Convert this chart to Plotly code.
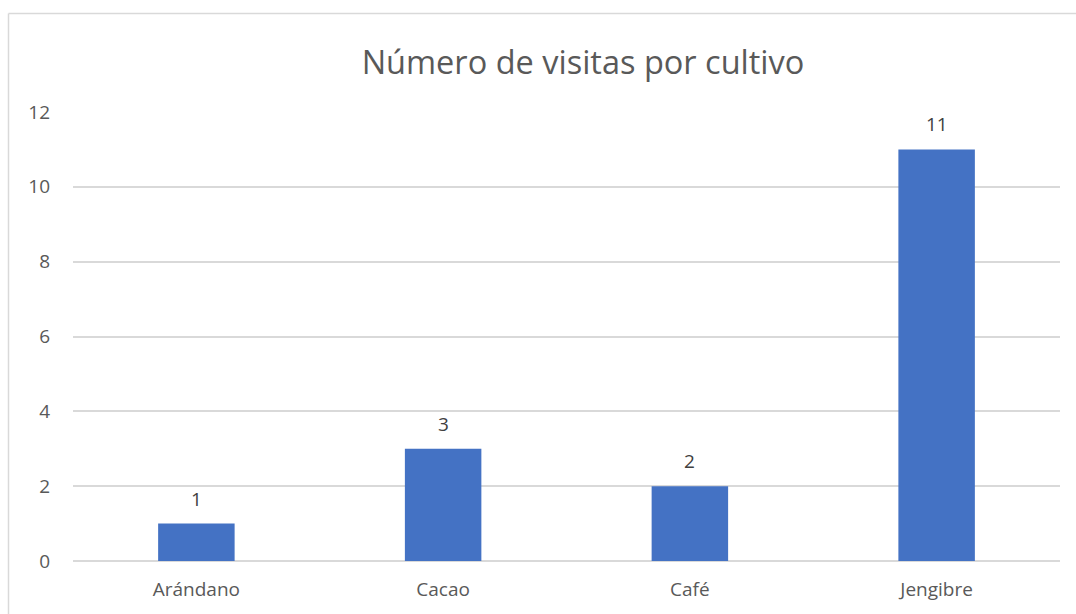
import plotly.graph_objects as go

categories = ["Arándano", "Cacao", "Café", "Jengibre"]
visits = [1, 3, 2, 11]
y_ticks = [0, 2, 4, 6, 8, 10, 12]

BAR = "#4472C4"
GRID = "#D9D9D9"
TEXT = "#595959"
FONT = "Open Sans"

# plot area in pixels: x 73..1060, y 112..561
L, R, T, B = 73, 16, 112, 53
W, H = 1076, 614
pw, ph = W - L - R, H - T - B

fig = go.Figure(
    go.Bar(
        x=categories,
        y=visits,
        width=0.31,
        marker=dict(color=BAR, line=dict(width=0)),
        hoverinfo="skip",
    )
)

for c, v in zip(categories, visits):
    fig.add_annotation(
        x=c, y=v, text=str(v), showarrow=False,
        yanchor="bottom", yshift=10,
        font=dict(family=FONT, size=19, color="#404040"),
    )

# chart border (left and top edges visible)
bx = (8.5 - L) / pw
by = (H - B - 13.5) / ph
fig.add_shape(type="line", xref="paper", yref="paper",
              x0=bx, x1=bx, y0=by, y1=-0.2,
              line=dict(color=GRID, width=1.5))
fig.add_shape(type="line", xref="paper", yref="paper",
              x0=bx, x1=1.1, y0=by, y1=by,
              line=dict(color=GRID, width=1.5))

fig.update_layout(
    width=W, height=H,
    margin=dict(l=L, r=R, t=T, b=B),
    paper_bgcolor="white", plot_bgcolor="white",
    showlegend=False,
    title=dict(
        text="Número de visitas por cultivo",
        x=583 / W, xanchor="center",
        y=1 - 63 / H, yanchor="middle",
        font=dict(family=FONT, size=32.5, color=TEXT),
    ),
    font=dict(family=FONT, color=TEXT, size=19),
    xaxis=dict(
        showgrid=False, showline=False, zeroline=False,
        ticks="", ticklabelstandoff=15,
        tickfont=dict(size=19, color=TEXT),
    ),
    yaxis=dict(
        range=[0, 12], tickvals=y_ticks,
        showgrid=True, gridcolor=GRID, gridwidth=1.5,
        zeroline=True, zerolinecolor=GRID, zerolinewidth=1.5,
        showline=False, ticks="", ticklabelstandoff=22,
        tickfont=dict(size=19, color=TEXT),
    ),
)

# drop the page's default body margin so the figure sits at 0,0
fig.write_html(
    "out.html",
    config={"displayModeBar": False},
    post_script="document.body.style.margin='0';",
)
